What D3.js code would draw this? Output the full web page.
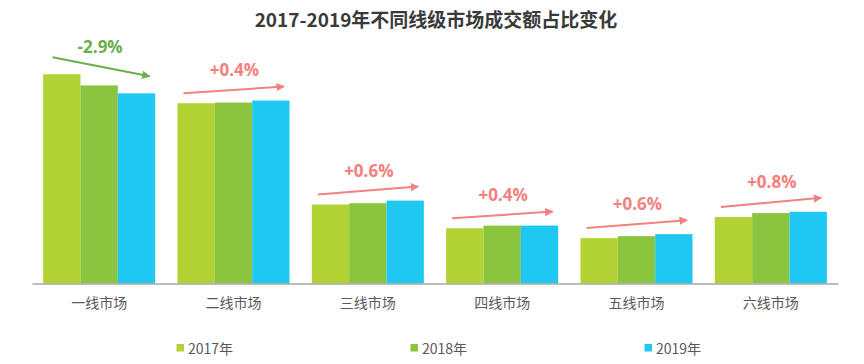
<!DOCTYPE html>
<html><head><meta charset="utf-8">
<script src="https://cdnjs.cloudflare.com/ajax/libs/d3/7.8.5/d3.min.js"></script>
<style>
html,body{margin:0;padding:0;background:#fff;}
svg{display:block;}
</style></head>
<body><svg id="c" width="864" height="364"></svg>
<script>
const title = "2017-2019年不同线级市场成交额占比变化";
const categories = ["一线市场","二线市场","三线市场","四线市场","五线市场","六线市场"];
const seriesNames = ["2017年","2018年","2019年"];
const v2017 = [31.8, 27.4, 12.0, 8.4, 6.9, 10.1];
const v2018 = [30.1, 27.5, 12.2, 8.8, 7.2, 10.7];
const v2019 = [28.9, 27.8, 12.6, 8.8, 7.5, 10.9];
const changeLabels = ["-2.9%","+0.4%","+0.6%","+0.4%","+0.6%","+0.8%"];
const colors = ["#b3d334","#8bc43f","#1ec8f0"];
const upColor = "#f3817f", downColor = "#6ab04c";

const series = [v2017, v2018, v2019];
const svg = d3.select("#c");
const font = "'Noto Sans CJK SC','Noto Sans',sans-serif";

svg.append("text").attr("x", 436).attr("y", 27).attr("text-anchor","middle")
  .attr("font-family", font).attr("font-weight","bold").attr("font-size", 19)
  .attr("fill","#3a3a3a").text(title);

const x0 = d3.scaleBand().domain(categories).range([32, 838]).paddingInner(0.166).paddingOuter(0.083);
const x1 = d3.scaleBand().domain(seriesNames).range([0, x0.bandwidth()]).padding(0);
const y = d3.scaleLinear().domain([0, 35]).range([283.5, 283.5 - 35*6.58]);

const groups = svg.append("g").selectAll("g").data(categories).join("g")
  .attr("transform", d => `translate(${x0(d)},0)`);
groups.selectAll("rect").data((d,i) => series.map((s,j) => ({k: seriesNames[j], v: s[i], j})))
  .join("rect")
  .attr("x", d => x1(d.k)).attr("width", x1.bandwidth())
  .attr("y", d => y(d.v)).attr("height", d => y(0) - y(d.v))
  .attr("fill", d => colors[d.j]);

// axis
const axis = svg.append("g").attr("transform", `translate(0,${y(0)})`)
  .call(d3.axisBottom(x0).tickSize(0).tickPadding(15));
axis.select(".domain").attr("stroke","#a6a6a6").attr("stroke-width",1.5);
axis.selectAll("text").attr("font-family", font).attr("font-size", 14).attr("fill","#595959");

// markers
const defs = svg.append("defs");
[["up", upColor],["down", downColor]].forEach(([id,c]) => {
  defs.append("marker").attr("id","m-"+id).attr("viewBox","0 0 10 10")
    .attr("refX", 9).attr("refY", 5).attr("markerWidth", 4.2).attr("markerHeight", 4.2)
    .attr("orient","auto").attr("markerUnits","strokeWidth")
    .append("path").attr("d","M0,0 L10,5 L0,10 z").attr("fill", c);
});

categories.forEach((c, i) => {
  const down = v2019[i] < v2017[i];
  const col = down ? downColor : upColor;
  const bx = x0(c);
  const sx = bx + (down ? 9.4 : 6), ex = bx + 106.5;
  const sy = down ? y(v2017[i]) - 17 : y(v2017[i]) - 10;
  const ey = down ? y(v2019[i]) - 17 : y(v2019[i]) - 14;
  svg.append("line").attr("x1", sx).attr("y1", sy).attr("x2", ex).attr("y2", ey)
    .attr("stroke", col).attr("stroke-width", 2)
    .attr("marker-end", `url(#m-${down ? "down" : "up"})`);
  svg.append("text").attr("x", bx + 57).attr("y", (sy+ey)/2 - 20.5)
    .attr("dominant-baseline","central").attr("text-anchor","middle")
    .attr("font-family","'Open Sans',sans-serif").attr("font-weight","bold").attr("font-size", 17)
    .attr("fill", col).text(changeLabels[i]);
});

// legend
const legend = svg.append("g");
seriesNames.forEach((n, j) => {
  const lx = 176.5 + j*234;
  legend.append("rect").attr("x", lx).attr("y", 344).attr("width", 7.5).attr("height", 7.5).attr("fill", colors[j]);
  legend.append("text").attr("x", lx + 11.5).attr("y", 348).attr("dominant-baseline","central")
    .attr("font-family", font).attr("font-size", 14).attr("fill","#595959").text(n);
});
</script></body></html>
